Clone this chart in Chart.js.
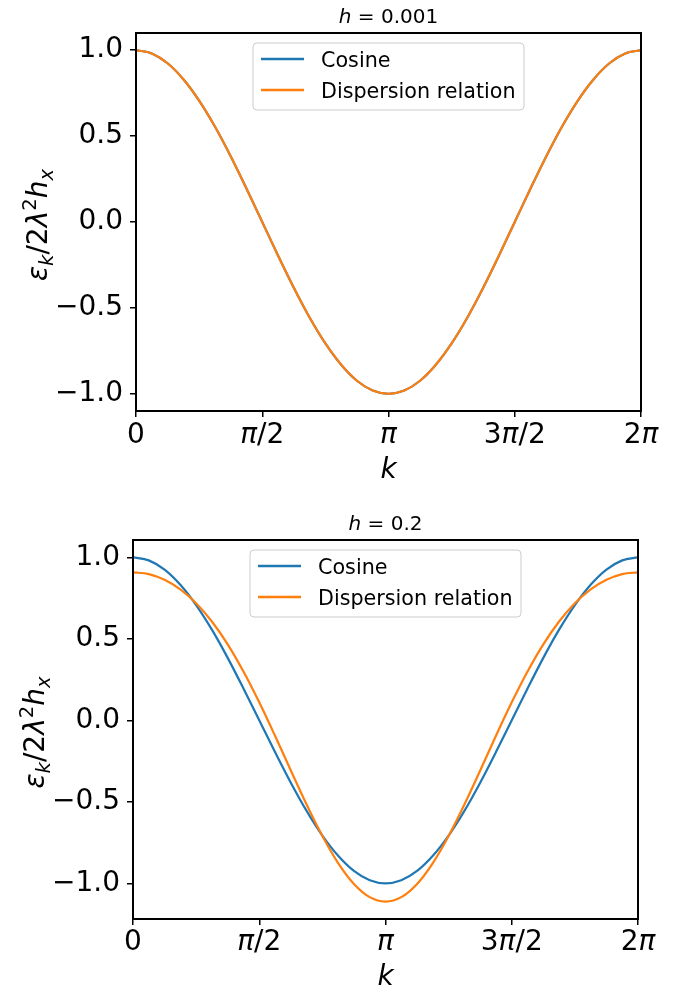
<!DOCTYPE html>
<html>
<head>
<meta charset="utf-8">
<script src="https://cdn.jsdelivr.net/npm/chart.js@4.4.1/dist/chart.umd.min.js"></script>
<style>
  body { margin: 0; background: #fff; }
  #wrap { position: relative; width: 685px; height: 990px; }
  canvas { position: absolute; left: 0; }
</style>
</head>
<body>
<div id="wrap">
  <canvas id="topChart" width="685" height="490" style="top:0"></canvas>
  <canvas id="bottomChart" width="685" height="500" style="top:490px"></canvas>
</div>
<script>
// k grid (0 .. 2π)
const kValues = [0, 0.1963, 0.3927, 0.5890, 0.7854, 0.9817, 1.1781, 1.3744, 1.5708, 1.7671, 1.9635,
  2.1598, 2.3562, 2.5525, 2.7489, 2.9452, 3.1416, 3.3379, 3.5343, 3.7306, 3.9270, 4.1233,
  4.3197, 4.5160, 4.7124, 4.9087, 5.1051, 5.3014, 5.4978, 5.6941, 5.8905, 6.0869, 6.2832];

// values
const cosineValues = [1, 0.981, 0.924, 0.831, 0.707, 0.556, 0.383, 0.195, 0, -0.195, -0.383,
  -0.556, -0.707, -0.831, -0.924, -0.981, -1, -0.981, -0.924, -0.831, -0.707, -0.556,
  -0.383, -0.195, 0, 0.195, 0.383, 0.556, 0.707, 0.831, 0.924, 0.981, 1];
const dispersionSmallH = [1, 0.981, 0.924, 0.831, 0.707, 0.556, 0.383, 0.195, 0, -0.195, -0.383,
  -0.556, -0.707, -0.831, -0.924, -0.981, -1, -0.981, -0.924, -0.831, -0.707, -0.556,
  -0.383, -0.195, 0, 0.195, 0.383, 0.556, 0.707, 0.831, 0.924, 0.981, 1];
const dispersionLargeH = [0.908, 0.897, 0.862, 0.803, 0.718, 0.606, 0.466, 0.299, 0.110, -0.095, -0.308,
  -0.517, -0.710, -0.876, -1.004, -1.085, -1.112, -1.085, -1.004, -0.876, -0.710, -0.517,
  -0.308, -0.095, 0.110, 0.299, 0.466, 0.606, 0.718, 0.803, 0.862, 0.897, 0.908];

const seriesNames = ["Cosine", "Dispersion relation"];
const panelTitles = ["h = 0.001", "h = 0.2"];
const xTickValues = [0, 1.5708, 3.1416, 4.7124, 6.2832];
const xTickLabels = ["0", "π/2", "π", "3π/2", "2π"];
const yTickValues = [-1, -0.5, 0, 0.5, 1];
const yTickLabels = ["−1.0", "−0.5", "0.0", "0.5", "1.0"];

const FONT = '"DejaVu Sans", sans-serif';
const BLUE = "#1f77b4";
const ORANGE = "#ff7f0e";

// split a label so that letters are italic like matplotlib mathtext
function splitRuns(text, size) {
    return Array.from(text).map(ch => ({ t: ch, it: /[a-zA-Zα-ωπ]/.test(ch), size: size, dy: 0 }));
}

function drawRuns(ctx, runs, x, y, align) {
    let total = 0;
    runs.forEach(r => {
        ctx.font = (r.it ? "italic " : "") + r.size + "px " + FONT;
        r.w = ctx.measureText(r.t).width;
        total += r.w;
    });
    let cx = align === "center" ? x - total / 2 : x;
    ctx.textBaseline = "alphabetic";
    ctx.textAlign = "left";
    ctx.fillStyle = "#000";
    runs.forEach(r => {
        ctx.font = (r.it ? "italic " : "") + r.size + "px " + FONT;
        ctx.fillText(r.t, cx, y + (r.dy || 0));
        cx += r.w;
    });
}

const panelDecor = {
    id: "panelDecor",
    afterDraw(chart) {
        const o = chart.options.plugins.panelDecor;
        const ctx = chart.ctx;
        const a = chart.chartArea;
        const midX = (a.left + a.right) / 2;
        ctx.save();

        // frame
        ctx.strokeStyle = "#000";
        ctx.lineWidth = 2;
        ctx.strokeRect(a.left, a.top, a.right - a.left, a.bottom - a.top);

        // x tick labels
        const xs = chart.scales.x;
        xs.ticks.forEach((t, i) => {
            drawRuns(ctx, splitRuns(xTickLabels[i], 28), xs.getPixelForValue(t.value), o.tickBaseline, "center");
        });

        // axis label k
        drawRuns(ctx, [{ t: "k", it: true, size: 28 }], midX, o.kBaseline, "center");

        // title
        drawRuns(ctx, splitRuns(o.title, 20), midX, a.top - 10, "center");

        // y axis label
        ctx.save();
        ctx.translate(a.left - 89, (a.top + a.bottom) / 2 + 3);
        ctx.rotate(-Math.PI / 2);
        drawRuns(ctx, [
            { t: "ε", it: true, size: 28 },
            { t: "k", it: true, size: 19.6, dy: 6 },
            { t: "/2", it: false, size: 28 },
            { t: "λ", it: true, size: 28 },
            { t: "2", it: false, size: 19.6, dy: -11 },
            { t: "h", it: true, size: 28 },
            { t: "x", it: true, size: 19.6, dy: 6 }
        ], 0, 0, "center");
        ctx.restore();

        // legend
        const bw = 271, bh = 67;
        const bx = midX - bw / 2, by = a.top + 10;
        ctx.beginPath();
        ctx.roundRect(bx, by, bw, bh, 4);
        ctx.fillStyle = "rgba(255,255,255,0.8)";
        ctx.fill();
        ctx.strokeStyle = "#cccccc";
        ctx.lineWidth = 1;
        ctx.stroke();
        const colors = [BLUE, ORANGE];
        seriesNames.forEach((name, i) => {
            const ly = by + 16 + i * 31;
            ctx.beginPath();
            ctx.moveTo(bx + 8, ly);
            ctx.lineTo(bx + 51, ly);
            ctx.strokeStyle = colors[i];
            ctx.lineWidth = 2.7;
            ctx.stroke();
            drawRuns(ctx, [{ t: name, it: false, size: 20.7 }], bx + 68, ly + 7.5, "left");
        });

        ctx.restore();
    }
};

function makePanel(canvasId, series, opts) {
    const canvasH = document.getElementById(canvasId).height;
    const area = opts.area;
    return new Chart(document.getElementById(canvasId), {
        type: "line",
        data: {
            datasets: [
                {
                    label: seriesNames[0],
                    data: kValues.map((k, i) => ({ x: k, y: series[0][i] })),
                    borderColor: BLUE, borderWidth: 2.2, pointRadius: 0,
                    cubicInterpolationMode: "monotone", fill: false, order: 1
                },
                {
                    label: seriesNames[1],
                    data: kValues.map((k, i) => ({ x: k, y: series[1][i] })),
                    borderColor: ORANGE, borderWidth: 2.2, pointRadius: 0,
                    cubicInterpolationMode: "monotone", fill: false, order: 0
                }
            ]
        },
        options: {
            responsive: false,
            animation: false,
            devicePixelRatio: 1,
            layout: { padding: { left: 0, top: area.top, right: 685 - area.right, bottom: 0 } },
            plugins: {
                legend: { display: false },
                tooltip: { enabled: false },
                panelDecor: { title: opts.title, tickBaseline: opts.tickBaseline, kBaseline: opts.kBaseline }
            },
            scales: {
                x: {
                    type: "linear", min: 0, max: 6.2832,
                    afterBuildTicks: s => { s.ticks = xTickValues.map(v => ({ value: v })); },
                    afterFit: s => { s.height = canvasH - area.bottom; },
                    ticks: { display: false },
                    grid: { drawOnChartArea: false, tickLength: 6, color: "#000", lineWidth: 1.5 },
                    border: { display: false }
                },
                y: {
                    type: "linear", min: opts.yMin, max: opts.yMax,
                    afterBuildTicks: s => { s.ticks = yTickValues.map(v => ({ value: v })); },
                    afterFit: s => { s.width = area.left; },
                    ticks: {
                        autoSkip: false, padding: 7, color: "#000",
                        font: { family: FONT, size: 28 },
                        callback: (v, i) => yTickLabels[i]
                    },
                    grid: { drawOnChartArea: false, tickLength: 6, color: "#000", lineWidth: 1.5 },
                    border: { display: false }
                }
            }
        },
        plugins: [panelDecor]
    });
}

makePanel("topChart", [cosineValues, dispersionSmallH], {
    title: panelTitles[0],
    area: { left: 136, right: 641, top: 33, bottom: 411 },
    yMin: -1.1, yMax: 1.1,
    tickBaseline: 443, kBaseline: 478
});

makePanel("bottomChart", [cosineValues, dispersionLargeH], {
    title: panelTitles[1],
    area: { left: 133, right: 638, top: 50, bottom: 429 },
    yMin: -1.219, yMax: 1.106,
    tickBaseline: 460, kBaseline: 495
});
</script>
</body>
</html>
